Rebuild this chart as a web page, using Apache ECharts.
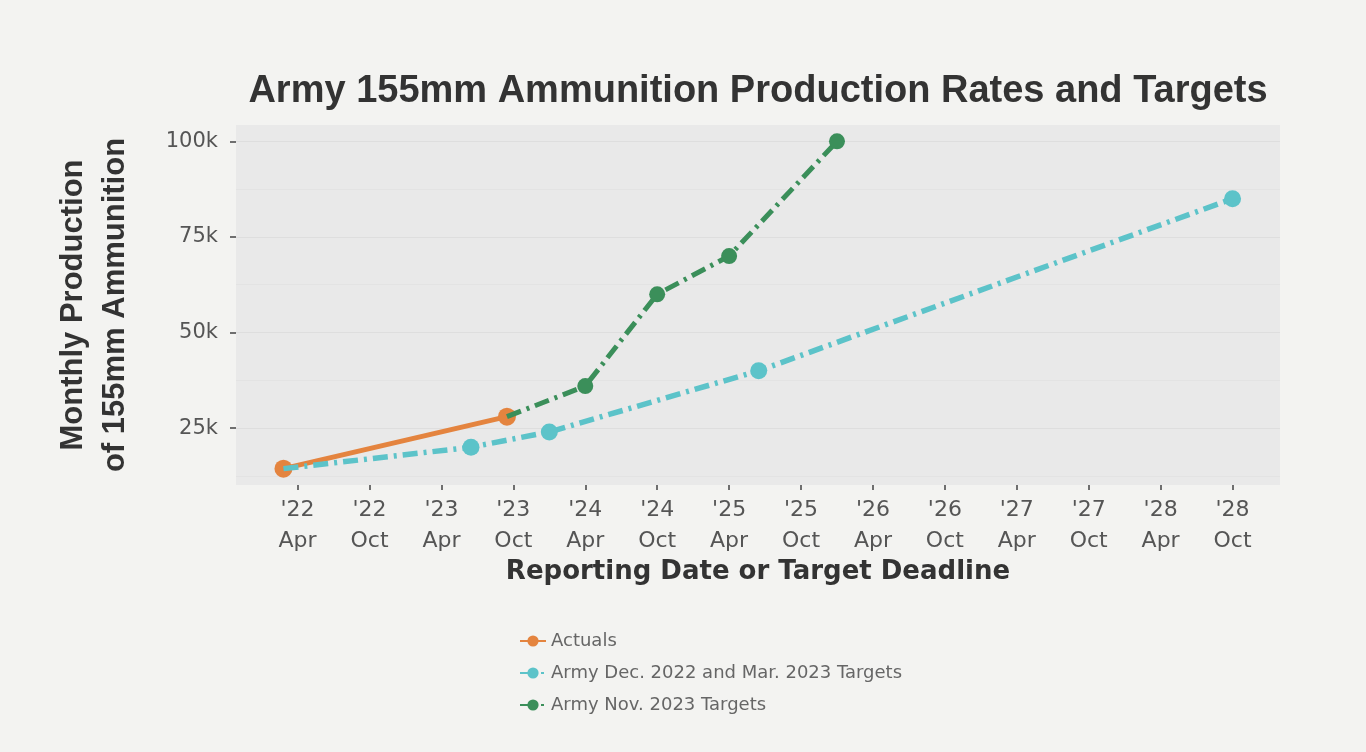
<!DOCTYPE html>
<html>
<head>
<meta charset="utf-8">
<title>Army 155mm Ammunition Production Rates and Targets</title>
<script src="https://cdn.jsdelivr.net/npm/echarts@6/dist/echarts.min.js"></script>
<style>
    html, body { margin: 0; padding: 0; background: #f3f3f1; }
    #chart { width: 1366px; height: 752px; }
</style>
</head>
<body>
<div id="chart"></div>
<script>
    'use strict';

    // ---------------------------------------------------------------- data
    const actualDates = ['2022-02-24', '2023-09-15'];
    const actualValues = [14400, 28000];

    const dec22Dates = ['2022-02-24', '2023-06-15', '2024-01-01', '2025-06-15', '2028-10-01'];
    const dec22Values = [14400, 20000, 24000, 40000, 85000];

    const nov23Dates = ['2023-09-15', '2024-04-01', '2024-10-01', '2025-04-01', '2026-01-01'];
    const nov23Values = [28000, 36000, 60000, 70000, 100000];

    const xTickDates = ['2022-04-01', '2022-10-01', '2023-04-01', '2023-10-01', '2024-04-01', '2024-10-01',
        '2025-04-01', '2025-10-01', '2026-04-01', '2026-10-01', '2027-04-01', '2027-10-01',
        '2028-04-01', '2028-10-01'];
    const yTicks = [25000, 50000, 75000, 100000];
    const yMinorTicks = [12500, 37500, 62500, 87500];

    const seriesNames = ['Actuals', 'Army Dec. 2022 and Mar. 2023 Targets', 'Army Nov. 2023 Targets'];
    const colors = ['#e4843f', '#5cc3c9', '#3b8f5a'];

    // ---------------------------------------------------------------- helpers
    const monthNames = ['Jan', 'Feb', 'Mar', 'Apr', 'May', 'Jun', 'Jul', 'Aug', 'Sep', 'Oct', 'Nov', 'Dec'];

    // months since Jan 2022, fractional by day
    function monthIndex(s) {
        const [y, m, d] = s.split('-').map(Number);
        const days = new Date(y, m, 0).getDate();
        return (y - 2022) * 12 + (m - 1) + (d - 1) / days;
    }

    function tickLabel(v) {
        const i = Math.round(v);
        const year = 2022 + Math.floor(i / 12);
        return "'" + String(year).slice(2) + '\n' + monthNames[((i % 12) + 12) % 12];
    }

    function pairs(dates, values, hideFirst) {
        return dates.map((d, i) => {
            const p = {value: [monthIndex(d), values[i]]};
            // first target point sits on an actual point, only the line starts there
            if (hideFirst && i === 0) p.symbol = 'none';
            return p;
        });
    }

    // ggplot-like 5% expansion of the data range
    const allX = actualDates.concat(dec22Dates, nov23Dates).map(monthIndex);
    const allY = actualValues.concat(dec22Values, nov23Values);
    function expand(arr) {
        const lo = Math.min(...arr), hi = Math.max(...arr), pad = (hi - lo) * 0.05;
        return [lo - pad, hi + pad];
    }
    const [xMin, xMax] = expand(allX);
    const [yMin, yMax] = expand(allY);

    const dashDot = [15, 6, 3, 6];
    const sans = 'Liberation Sans, Arial, sans-serif';
    const wide = 'DejaVu Sans, Verdana, sans-serif';

    // ---------------------------------------------------------------- chart
    const chart = echarts.init(document.getElementById('chart'));

    chart.setOption({
        animation: false,
        backgroundColor: '#f3f3f1',
        textStyle: {fontFamily: sans},
        title: {
            text: 'Army 155mm Ammunition Production Rates and Targets',
            left: 753,
            top: 68,
            textAlign: 'center',
            textStyle: {fontSize: 38, fontWeight: 'bold', color: '#333', fontFamily: sans}
        },
        grid: {
            left: 236, right: 86, top: 125, bottom: 267,
            show: true, backgroundColor: '#e9e9e9', borderWidth: 0
        },
        legend: {
            orient: 'vertical',
            left: 514,
            top: 627,
            itemWidth: 26,
            itemHeight: 14,
            itemGap: 14,
            textStyle: {fontSize: 18, color: '#666', fontFamily: wide},
            data: seriesNames
        },
        xAxis: {
            type: 'value',
            min: xMin,
            max: xMax,
            name: 'Reporting Date or Target Deadline',
            nameLocation: 'middle',
            nameGap: 74,
            nameTextStyle: {fontSize: 26, fontWeight: 'bold', color: '#333', fontFamily: wide},
            axisLine: {show: false, onZero: false},
            axisTick: {
                show: true, length: 5,
                customValues: xTickDates.map(monthIndex),
                lineStyle: {color: '#444', width: 1.5}
            },
            axisLabel: {
                customValues: xTickDates.map(monthIndex),
                formatter: tickLabel,
                fontSize: 22, lineHeight: 31, color: '#555', margin: 10, fontFamily: wide
            },
            splitLine: {show: false}
        },
        yAxis: [{
            type: 'value',
            min: yMin,
            max: yMax,
            name: 'Monthly Production\nof 155mm Ammunition',
            nameLocation: 'middle',
            nameGap: 100,
            nameRotate: 90,
            nameTextStyle: {fontSize: 31, fontWeight: 'bold', color: '#333', lineHeight: 42, fontFamily: sans},
            axisLine: {show: false, onZero: false},
            axisTick: {
                show: true, length: 6,
                customValues: yTicks,
                lineStyle: {color: '#444', width: 1.5}
            },
            axisLabel: {
                customValues: yTicks,
                formatter: v => (v / 1000) + 'k',
                fontSize: 21, color: '#555', margin: 18, fontFamily: wide
            },
            splitLine: {show: true, lineStyle: {color: '#dedede', width: 1.2}}
        }, {
            // minor grid only
            type: 'value',
            position: 'left',
            min: yMin,
            max: yMax,
            axisLine: {show: false, onZero: false},
            axisTick: {show: false, customValues: yMinorTicks},
            axisLabel: {show: false, customValues: yMinorTicks},
            splitLine: {show: true, lineStyle: {color: '#e3e3e3', width: 1}}
        }],
        series: [{
            name: seriesNames[0],
            type: 'line',
            z: 2,
            data: pairs(actualDates, actualValues, false),
            symbol: 'circle',
            symbolSize: 18,
            itemStyle: {color: colors[0]},
            lineStyle: {color: colors[0], width: 5}
        }, {
            name: seriesNames[1],
            type: 'line',
            z: 3,
            data: pairs(dec22Dates, dec22Values, true),
            symbol: 'circle',
            symbolSize: 17,
            itemStyle: {color: colors[1]},
            lineStyle: {color: colors[1], width: 5.5, type: dashDot}
        }, {
            name: seriesNames[2],
            type: 'line',
            z: 4,
            data: pairs(nov23Dates, nov23Values, true),
            symbol: 'circle',
            symbolSize: 16,
            itemStyle: {color: colors[2]},
            lineStyle: {color: colors[2], width: 5, type: dashDot}
        }]
    });
</script>
</body>
</html>
